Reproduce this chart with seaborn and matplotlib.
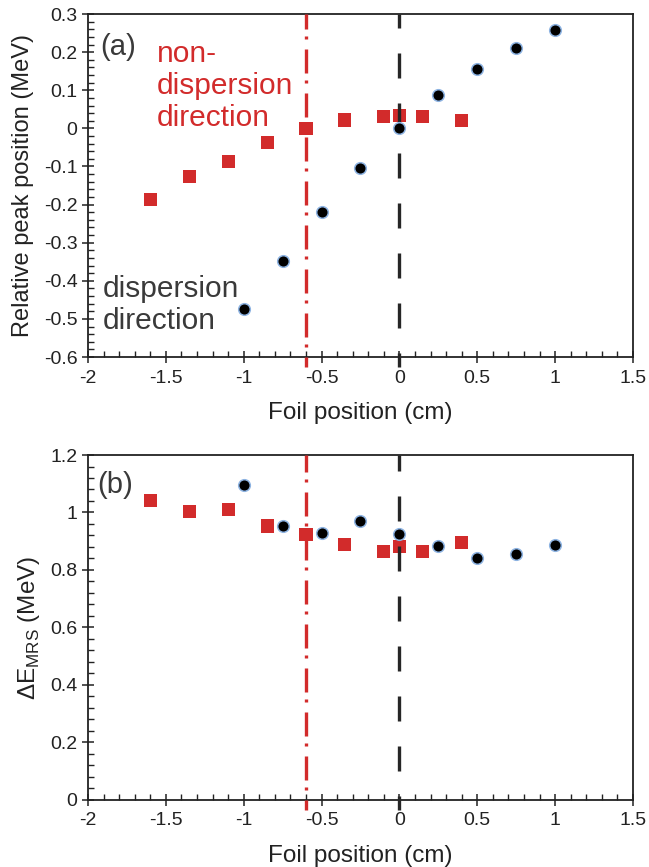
import matplotlib
matplotlib.use("Agg")
import matplotlib.pyplot as plt
import seaborn as sns
import pandas as pd
from matplotlib.ticker import MultipleLocator, FuncFormatter

# ---------------- data ----------------
disp_x = [-1, -0.75, -0.5, -0.25, 0, 0.25, 0.5, 0.75, 1]
disp_peak = [-0.475, -0.348, -0.220, -0.104, 0.000, 0.087, 0.156, 0.210, 0.258]
disp_dE = [1.096, 0.953, 0.929, 0.970, 0.925, 0.883, 0.842, 0.856, 0.887]

nondisp_x = [-1.6, -1.35, -1.1, -0.85, -0.6, -0.35, -0.1, 0, 0.15, 0.4]
nondisp_peak = [-0.187, -0.127, -0.086, -0.036, 0.000, 0.022, 0.032, 0.035, 0.032, 0.021]
nondisp_dE = [1.043, 1.005, 1.012, 0.953, 0.922, 0.890, 0.863, 0.883, 0.866, 0.897]

vline_nondisp = -0.6
vline_disp = 0.0

df_disp = pd.DataFrame({"x": disp_x, "peak": disp_peak, "dE": disp_dE})
df_nd = pd.DataFrame({"x": nondisp_x, "peak": nondisp_peak, "dE": nondisp_dE})

# ---------------- style ----------------
sns.set_style("ticks")
plt.rcParams["font.family"] = ["Liberation Sans", "DejaVu Sans"]
plt.rcParams["axes.unicode_minus"] = False
plt.rcParams["mathtext.fontset"] = "custom"
plt.rcParams["mathtext.rm"] = "Liberation Sans"

RED = "#D22B2B"
TXT = "#222222"
DARK = "#3A3A3A"

fig = plt.figure(figsize=(6.49, 8.67), dpi=100)
ax1 = fig.add_axes([0.1356, 0.5882, 0.8397, 0.3956])
ax2 = fig.add_axes([0.1356, 0.0773, 0.8397, 0.3979])


def tick_fmt(v, pos):
    if abs(v) < 1e-9:
        return "0"
    if abs(v - round(v)) < 1e-9:
        return "%d" % round(v)
    return "%g" % round(v, 2)


def style_axis(ax, ylim, ymajor, yminor):
    ax.set_xlim(-2, 1.5)
    ax.set_ylim(*ylim)
    ax.xaxis.set_major_locator(MultipleLocator(0.5))
    ax.xaxis.set_minor_locator(MultipleLocator(0.1))
    ax.yaxis.set_major_locator(MultipleLocator(ymajor))
    ax.yaxis.set_minor_locator(MultipleLocator(yminor))
    ax.xaxis.set_major_formatter(FuncFormatter(tick_fmt))
    ax.yaxis.set_major_formatter(FuncFormatter(tick_fmt))
    ax.tick_params(axis="both", which="major", direction="inout", length=8,
                   width=1.1, color="#222222", labelsize=14, labelcolor=TXT,
                   top=False, right=False)
    ax.tick_params(axis="both", which="minor", direction="in", length=4,
                   width=1.0, color="#222222", top=False, right=False)
    ax.tick_params(axis="x", which="major", pad=5)
    for sp in ax.spines.values():
        sp.set_visible(True)
        sp.set_color("#222222")
        sp.set_linewidth(1.3)
    ax.grid(False)


for ax, ycol in ((ax1, "peak"), (ax2, "dE")):
    sns.scatterplot(data=df_nd, x="x", y=ycol, ax=ax, marker="s", s=88,
                    color=RED, edgecolor="none", linewidth=0, zorder=2)
    ax.axvline(vline_nondisp, ymin=-0.029, ymax=1, clip_on=False, color=RED,
               lw=2.4, linestyle=(4.2, (7.2, 3.0, 0.9, 2.1)), zorder=3)
    ax.axvline(vline_disp, ymin=-0.029, ymax=1, clip_on=False, color="#262626",
               lw=2.4, linestyle=(3.3, (7.5, 7.5)), zorder=3)
    sns.scatterplot(data=df_disp, x="x", y=ycol, ax=ax, marker="o", s=70,
                    color="black", edgecolor="#8DB3E2", linewidth=1.1, zorder=4)

style_axis(ax1, (-0.6, 0.3), 0.1, 0.02)
style_axis(ax2, (0, 1.2), 0.2, 0.04)

ax1.set_xlabel("Foil position (cm)", fontsize=17.5, color=TXT, labelpad=11)
ax2.set_xlabel("Foil position (cm)", fontsize=17.5, color=TXT, labelpad=11)
ax1.set_ylabel("Relative peak position (MeV)", fontsize=17, color=TXT)
ax2.set_ylabel("ΔE$_{\\mathrm{MRS}}$ (MeV)", fontsize=17.5, color=TXT)
ax1.yaxis.set_label_coords(-0.099, 0.5)
ax2.yaxis.set_label_coords(-0.084, 0.5)

ax1.text(0.022, 0.904, "(a)", transform=ax1.transAxes, fontsize=21,
         color=DARK, ha="left", va="center")
ax1.text(0.127, 0.79, "non-\ndispersion\ndirection", transform=ax1.transAxes,
         fontsize=21.5, color=RED, ha="left", va="center", linespacing=1.2)
ax1.text(0.0275, 0.152, "dispersion\ndirection", transform=ax1.transAxes,
         fontsize=21.5, color=DARK, ha="left", va="center", linespacing=1.2)
ax2.text(0.0165, 0.913, "(b)", transform=ax2.transAxes, fontsize=21,
         color=DARK, ha="left", va="center")

fig.savefig("out.png", dpi=100)
